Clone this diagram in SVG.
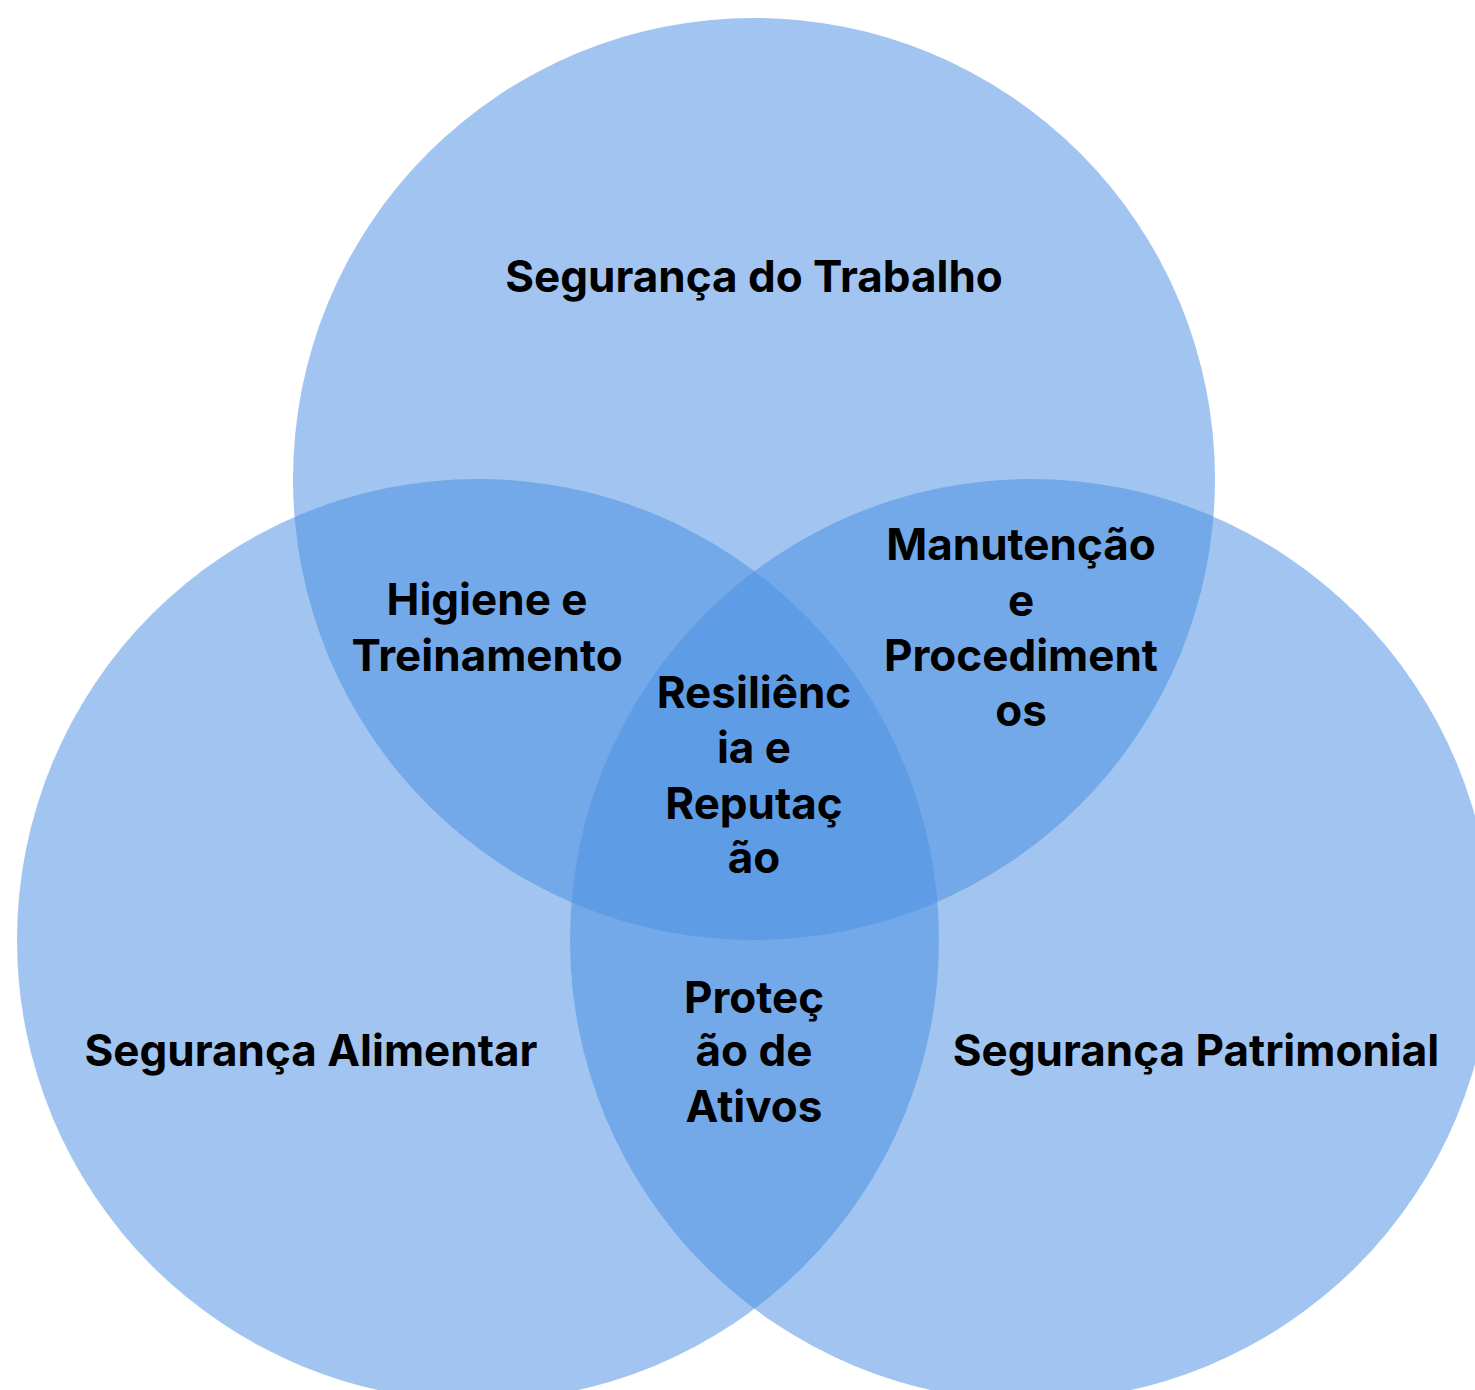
<svg xmlns="http://www.w3.org/2000/svg" width="1475" height="1390" viewBox="0 0 1475 1390">
<style>
.c{fill:#4a90e2;fill-opacity:0.52}
.t{font-family:Inter,"Liberation Sans",sans-serif;font-weight:700;font-size:44px;fill:#000;text-anchor:middle}
</style>
<rect width="1475" height="1390" fill="#fff"/>
<g id="trabalho"><circle class="c" cx="754" cy="479" r="461"/></g>
<g id="alimentar"><circle class="c" cx="478" cy="940" r="461"/></g>
<g id="patrimonial"><circle class="c" cx="1031" cy="940" r="461"/></g>
<g id="connectors"></g>
<g id="labels">
<text class="t" x="754" y="292">Segurança do Trabalho</text>
<text class="t" x="311" y="1066">Segurança Alimentar</text>
<text class="t" x="1196" y="1066">Segurança Patrimonial</text>
<text class="t" x="487" y="615">Higiene e</text>
<text class="t" x="487" y="671">Treinamento</text>
<text class="t" x="1021" y="560">Manutenção</text>
<text class="t" x="1021" y="616">e</text>
<text class="t" x="1021" y="671">Procediment</text>
<text class="t" x="1021" y="726">os</text>
<text class="t" x="754" y="708">Resiliênc</text>
<text class="t" x="754" y="763">ia e</text>
<text class="t" x="754" y="819">Reputaç</text>
<text class="t" x="754" y="873">ão</text>
<text class="t" x="754" y="1013">Proteç</text>
<text class="t" x="754" y="1066">ão de</text>
<text class="t" x="754" y="1122">Ativos</text>
</g>
</svg>
